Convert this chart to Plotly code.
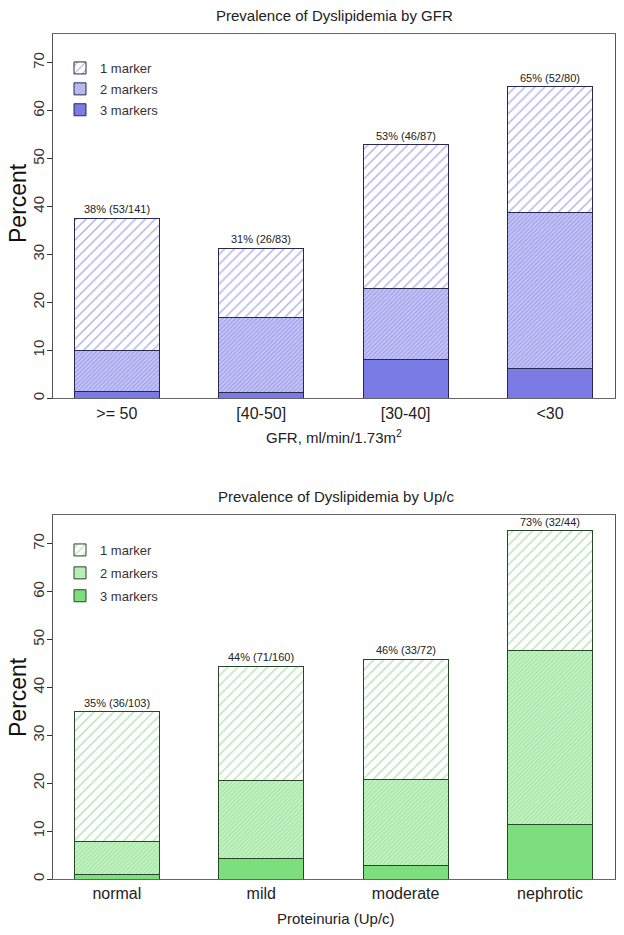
import plotly.graph_objects as go

# ---------------- data ----------------
gfr_cats = [">= 50", "[40-50]", "[30-40]", "<30"]
gfr_3 = [1.42, 1.20, 8.05, 6.25]
gfr_2 = [8.51, 15.66, 14.94, 32.50]
gfr_1 = [27.66, 14.46, 29.89, 26.25]
gfr_labels = ["38% (53/141)", "31% (26/83)", "53% (46/87)", "65% (52/80)"]

up_cats = ["normal", "mild", "moderate", "nephrotic"]
up_3 = [0.97, 4.38, 2.78, 11.36]
up_2 = [6.80, 16.25, 18.06, 36.36]
up_1 = [27.18, 23.75, 25.00, 25.00]
up_labels = ["35% (36/103)", "44% (71/160)", "46% (33/72)", "73% (32/44)"]

series_names = ["3 markers", "2 markers", "1 marker"]
y_ticks = [0, 10, 20, 30, 40, 50, 60, 70]

# ---------------- layout helpers ----------------
W, H = 624, 935
FONT = "Arial, Liberation Sans, sans-serif"


def px_x(p):
    return p / W


def px_y(p):
    return 1 - p / H


BLUE = dict(solid="rgb(123,123,230)", line="rgb(40,40,80)", hatch="rgb(95,95,205)",
            light="rgb(205,205,247)")
GREEN = dict(solid="rgb(125,222,125)", line="rgb(40,70,40)", hatch="rgb(105,195,105)",
             light="rgb(205,243,205)")

fig = go.Figure()


def add_panel(cats, v3, v2, v1, col, xa, ya, legend):
    xs = list(range(len(cats)))
    styles = [
        dict(color=col["solid"]),
        dict(color=col["light"], pattern=dict(shape="/", fgcolor=col["solid"], bgcolor=col["light"],
                                               size=3, solidity=0.55)),
        dict(color="white", pattern=dict(shape="/", fgcolor=col["hatch"], bgcolor="white",
                                         size=7, solidity=0.2)),
    ]
    ranks = [3, 2, 1]
    for name, vals, st, rk in zip(series_names, [v3, v2, v1], styles, ranks):
        fig.add_trace(go.Bar(
            x=xs, y=vals, name=name, width=0.59,
            marker=dict(line=dict(color=col["line"], width=1), **st),
            xaxis=xa, yaxis=ya, legend=legend, legendgroup=legend + name,
            legendrank=rk, hoverinfo="skip",
        ))


add_panel(gfr_cats, gfr_3, gfr_2, gfr_1, BLUE, "x", "y", "legend")
add_panel(up_cats, up_3, up_2, up_1, GREEN, "x2", "y2", "legend2")

annotations = []
for lbls, v3, v2, v1, xr, yr in [(gfr_labels, gfr_3, gfr_2, gfr_1, "x", "y"),
                                  (up_labels, up_3, up_2, up_1, "x2", "y2")]:
    for i, t in enumerate(lbls):
        annotations.append(dict(x=i, y=v3[i] + v2[i] + v1[i], xref=xr, yref=yr, text=t,
                                showarrow=False, xanchor="center", yanchor="bottom", yshift=1,
                                font=dict(size=11, color="#222", family=FONT)))


def paper_text(x, y, text, size, color="#222", angle=0):
    return dict(x=px_x(x), y=px_y(y), xref="paper", yref="paper", text=text,
                showarrow=False, xanchor="center", yanchor="middle", textangle=angle,
                font=dict(size=size, color=color, family=FONT))


# titles / axis labels
annotations += [
    paper_text(334, 16, "Prevalence of Dyslipidemia by GFR", 15),
    paper_text(336, 497, "Prevalence of Dyslipidemia by Up/c", 15),
    paper_text(18, 203, "Percent", 23, "#111", -90),
    paper_text(18, 697, "Percent", 23, "#111", -90),
    paper_text(334, 436, "GFR, ml/min/1.73m<sup>2</sup>", 15),
    paper_text(336, 918, "Proteinuria (Up/c)", 15),
]

xdom = [px_x(53.3), px_x(615)]
common_x = dict(range=[-0.44, 3.45], showgrid=False, zeroline=False, showline=True,
                mirror=True, linecolor="#666", linewidth=1, ticks="", automargin=False,
                tickvals=[0, 1, 2, 3], tickfont=dict(size=16, color="#222", family=FONT))
common_y = dict(range=[0, 76], showgrid=False, zeroline=False, showline=True, mirror=True,
                linecolor="#555", linewidth=1, ticks="outside", ticklen=5, tickcolor="#333",
                tickvals=y_ticks, tickangle=-90, automargin=False, ticklabelstandoff=-3,
                tickfont=dict(size=15, color="#333", family=FONT))

legend_common = dict(font=dict(size=13, color="#333", family=FONT), bgcolor="rgba(0,0,0,0)",
                     traceorder="grouped", xanchor="left", yanchor="top",
                     itemclick=False, itemdoubleclick=False)

fig.update_layout(
    width=W, height=H,
    margin=dict(l=0, r=0, t=0, b=0, autoexpand=False),
    paper_bgcolor="white", plot_bgcolor="white",
    barmode="stack",
    font=dict(family=FONT),
    showlegend=True,
    xaxis=dict(domain=xdom, anchor="y", ticktext=gfr_cats, **common_x),
    yaxis=dict(domain=[px_y(398.3), px_y(34)], anchor="x", **common_y),
    xaxis2=dict(domain=xdom, anchor="y2", ticktext=up_cats, **common_x),
    yaxis2=dict(domain=[px_y(879), px_y(515)], anchor="x2", **common_y),
    legend=dict(x=px_x(60), y=px_y(53), tracegroupgap=1, **legend_common),
    legend2=dict(x=px_x(60), y=px_y(535), tracegroupgap=3, **legend_common),
    annotations=annotations,
)

fig.write_html("out.html", config={"displayModeBar": False},
               post_script="document.body.style.margin='0px';")
